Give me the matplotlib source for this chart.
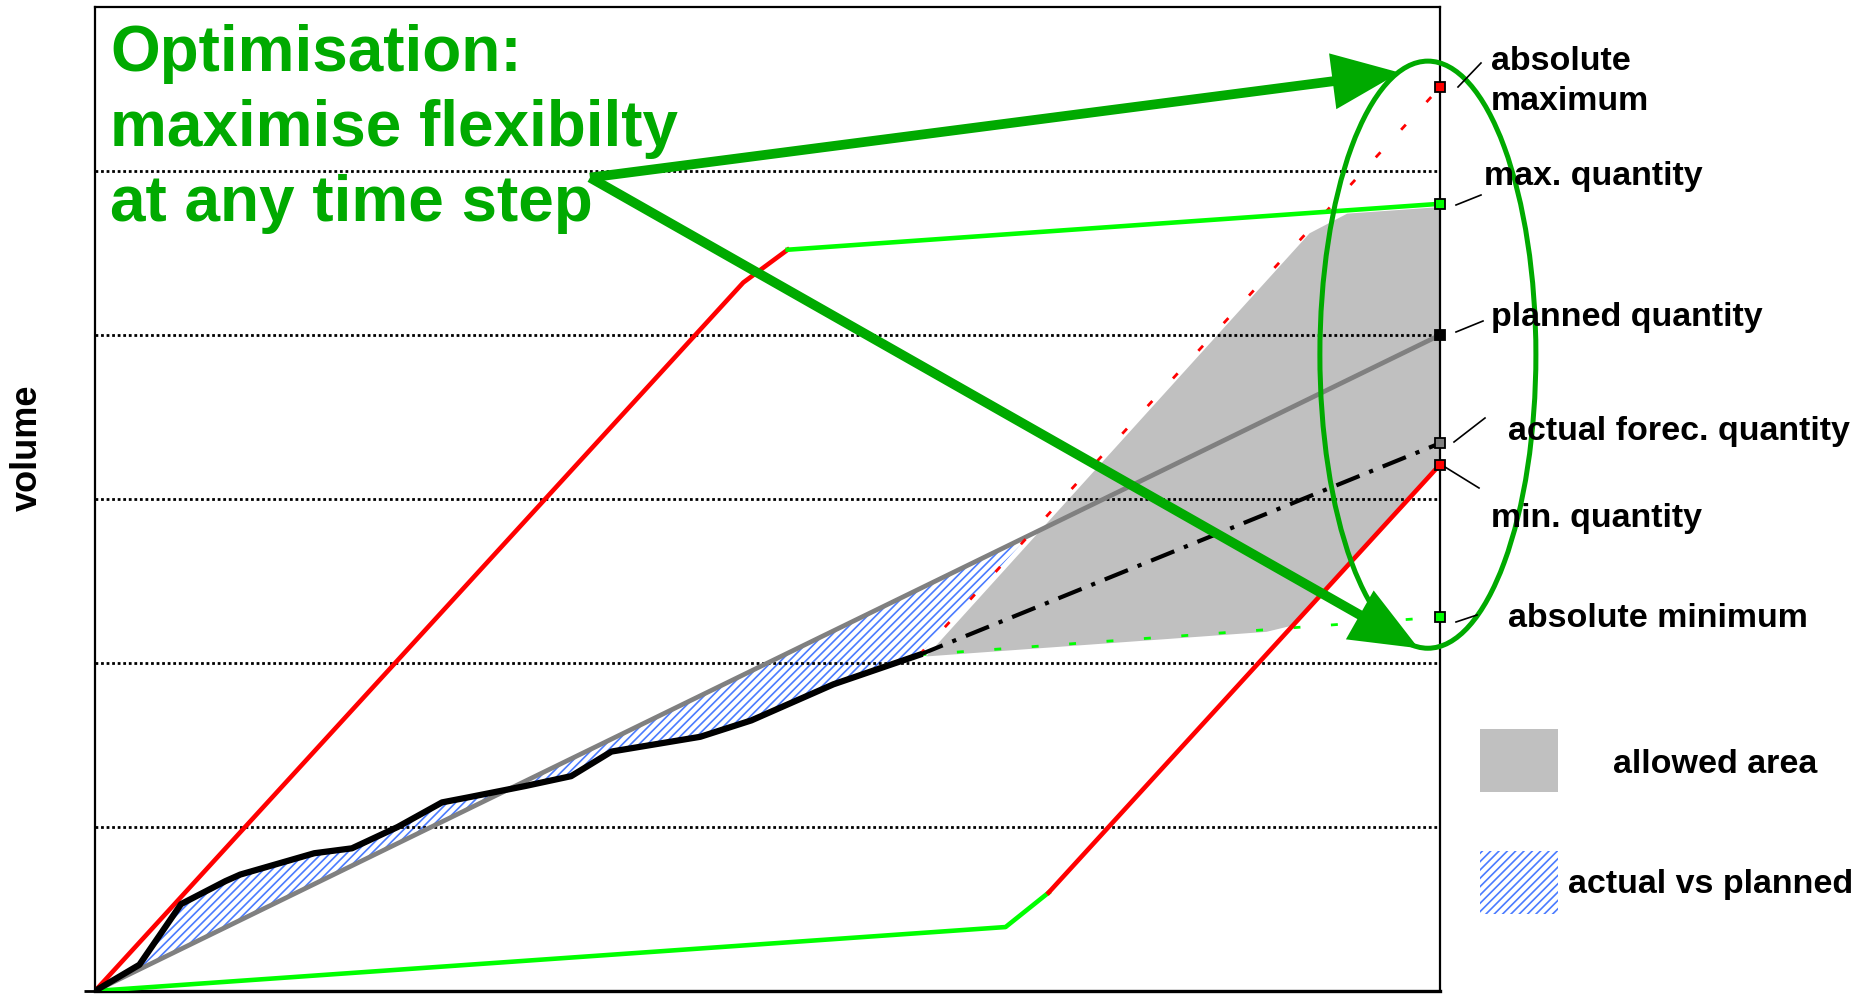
import matplotlib
matplotlib.use('Agg')
import matplotlib.pyplot as plt
import numpy as np
from matplotlib.patches import Polygon, Ellipse, Rectangle, FancyArrowPatch
from matplotlib.lines import Line2D

plt.rcParams['font.family'] = ['Liberation Sans', 'DejaVu Sans']
plt.rcParams['font.weight'] = 'bold'
plt.rcParams['hatch.linewidth'] = 1.2

# ---------------- data (time: % of horizon, volume: grid units) ----------------
actual_t = [0, 3.3, 6.4, 9.7, 10.8, 16.3, 19.1, 22.5, 25.8, 27.7, 32.0, 35.4, 38.4, 45.0, 48.8, 54.9, 61.3]
actual_v = [0, 0.16, 0.53, 0.67, 0.71, 0.84, 0.87, 1.00, 1.15, 1.18, 1.25, 1.31, 1.46, 1.55, 1.65, 1.87, 2.05]

planned_t = [0, 100]
planned_v = [0, 4.0]

forecast_t = [61.3, 100]
forecast_v = [2.05, 3.34]

max_red_t = [0, 48.2, 51.5]
max_red_v = [0, 4.32, 4.52]
max_green_t = [51.5, 100]
max_green_v = [4.52, 4.80]

min_green_t = [0, 67.7, 70.9]
min_green_v = [0, 0.39, 0.60]
min_red_t = [70.9, 100]
min_red_v = [0.60, 3.21]

absmax_t = [61.3, 100]
absmax_v = [2.05, 5.51]
absmin_t = [61.3, 100]
absmin_v = [2.05, 2.28]

allowed_t = [61.8, 90.3, 93.1, 100, 100, 89.1, 87.1]
allowed_v = [2.04, 4.62, 4.74, 4.78, 3.21, 2.23, 2.19]

grid_levels = [1, 2, 3, 4, 5]

end_values = [5.51, 4.80, 4.00, 3.34, 3.21, 2.28]
end_colors = ['#FF0000', '#00FF00', '#000000', '#808080', '#FF0000', '#00FF00']

label_texts = ['absolute', 'maximum', 'max. quantity', 'planned quantity',
               'actual forec. quantity', 'min. quantity', 'absolute minimum']
label_px = [(1491, 70), (1491, 110), (1484, 185), (1491, 326),
            (1508, 440), (1491, 527), (1508, 627)]
leader_px = [((1458, 87), (1481, 63)), ((1456, 205), (1481, 195)),
             ((1456, 332), (1483, 321)), ((1454, 442), (1485, 418)),
             ((1445, 467), (1479, 488)), ((1456, 622), (1477, 615))]

title_lines = ['Optimisation:', 'maximise flexibilty', 'at any time step']
title_baselines_px = [71, 146, 221]

legend_texts = ['allowed area', 'actual vs planned']

# ---------------- figure ----------------
W, H, DPI = 1868, 1000, 100
fig = plt.figure(figsize=(W / DPI, H / DPI), dpi=DPI)
fig.patch.set_facecolor('white')


def fx(px):
    return px / W


def fy(py):
    return 1 - py / H


ax = fig.add_axes([fx(95), fy(991), fx(1440) - fx(95), fy(7) - fy(991)])
ax.set_xlim(0, 100)
ax.set_ylim(0, 6)
ax.set_xticks([])
ax.set_yticks([0])
ax.set_yticklabels([''])
ax.tick_params(axis='y', length=8, width=2, direction='out')
for side in ['left', 'top', 'right']:
    ax.spines[side].set_linewidth(1.6)
ax.spines['bottom'].set_linewidth(2.4)

GREEN_DARK = '#00AA00'
LIME = '#00FF00'
RED = '#FF0000'
HATCH_BLUE = '#4A7BFF'

# allowed area
ax.add_patch(Polygon(np.column_stack([allowed_t, allowed_v]), closed=True,
                     facecolor='#C0C0C0', edgecolor='none', zorder=1))

# actual vs planned hatched area
sp = (planned_v[1] - planned_v[0]) / (planned_t[1] - planned_t[0])
sa = (absmax_v[1] - absmax_v[0]) / (absmax_t[1] - absmax_t[0])
t_i = (absmax_v[0] - sa * absmax_t[0]) / (sp - sa)
v_i = sp * t_i
hatch_pts = [(planned_t[0], planned_v[0]), (t_i, v_i), (actual_t[-1], actual_v[-1])]
hatch_pts += list(zip(actual_t[::-1], actual_v[::-1]))
ax.add_patch(Polygon(hatch_pts, closed=True, facecolor='none', edgecolor=HATCH_BLUE,
                     hatch='////', linewidth=0, zorder=1.5))

# grid
ax.hlines(grid_levels, 0, 100, colors='black', linestyles=(0, (1, 1)), lw=2.0, zorder=2.5)

# lines
ax.plot(planned_t, planned_v, color='#808080', lw=3.4, zorder=3, solid_capstyle='butt')
ax.plot(max_red_t, max_red_v, color=RED, lw=3.3, zorder=3.2)
ax.plot(max_green_t, max_green_v, color=LIME, lw=3.3, zorder=3.2)
ax.plot(min_green_t, min_green_v, color=LIME, lw=3.3, zorder=3.2)
ax.plot(min_red_t, min_red_v, color=RED, lw=3.3, zorder=3.2)
ax.plot(absmax_t, absmax_v, color=RED, lw=2.0, linestyle=(0, (2.5, 11)), zorder=3.1)
ax.plot(absmin_t, absmin_v, color=LIME, lw=2.0, linestyle=(0, (2.5, 11)), zorder=3.1)
ax.plot(forecast_t, forecast_v, color='black', lw=3.0, linestyle=(0, (6, 2.5, 1, 2.5)), zorder=3.4)
ax.plot(actual_t, actual_v, color='black', lw=4.5, zorder=3.5, solid_joinstyle='round')

# end markers
for v, c in zip(end_values, end_colors):
    ax.plot([100], [v], marker='s', ms=6.5, mfc=c, mec='black', mew=1.3,
            clip_on=False, zorder=8)

# big arrows
arrow_start = (36.8, 4.96)
arrow_tips = [(97.0, 5.60), (98.4, 2.09)]
for tip in arrow_tips:
    arr = FancyArrowPatch(arrow_start, tip,
                          arrowstyle='-|>,head_length=1.8,head_width=0.75',
                          mutation_scale=20, lw=7, color=GREEN_DARK,
                          shrinkA=0, shrinkB=0, clip_on=False, zorder=6,
                          joinstyle='miter', capstyle='butt')
    ax.add_patch(arr)

# ellipse
ax.add_patch(Ellipse((99.1, 3.88), 16.06, 3.58, fill=False, edgecolor=GREEN_DARK,
                     lw=3.6, clip_on=False, zorder=7))

# title
for line, by in zip(title_lines, title_baselines_px):
    fig.text(fx(110), fy(by), line, color=GREEN_DARK, fontsize=46,
             fontweight='bold', ha='left', va='baseline', zorder=9)

# labels on the right
for t, (px, py) in zip(label_texts, label_px):
    fig.text(fx(px), fy(py), t, color='black', fontsize=24.5, fontweight='bold',
             ha='left', va='baseline', zorder=9)
for (a, b) in leader_px:
    fig.add_artist(Line2D([fx(a[0]), fx(b[0])], [fy(a[1]), fy(b[1])],
                          color='black', lw=1.2, transform=fig.transFigure))

# y-label
fig.text(fx(27), fy(448), 'volume', rotation=90, fontsize=26, fontweight='bold',
         ha='center', va='center')

# legend
fig.add_artist(Rectangle((fx(1480), fy(792)), fx(1558) - fx(1480), fy(729) - fy(792),
                         facecolor='#C0C0C0', edgecolor='none', transform=fig.transFigure))
fig.add_artist(Rectangle((fx(1480), fy(914)), fx(1558) - fx(1480), fy(851) - fy(914),
                         facecolor='white', edgecolor=HATCH_BLUE, hatch='////', lw=0,
                         transform=fig.transFigure))
fig.text(fx(1613), fy(773), legend_texts[0], fontsize=24.5, fontweight='bold',
         ha='left', va='baseline')
fig.text(fx(1568), fy(893), legend_texts[1], fontsize=24.5, fontweight='bold',
         ha='left', va='baseline')

fig.savefig('out.png', dpi=DPI, facecolor='white')
